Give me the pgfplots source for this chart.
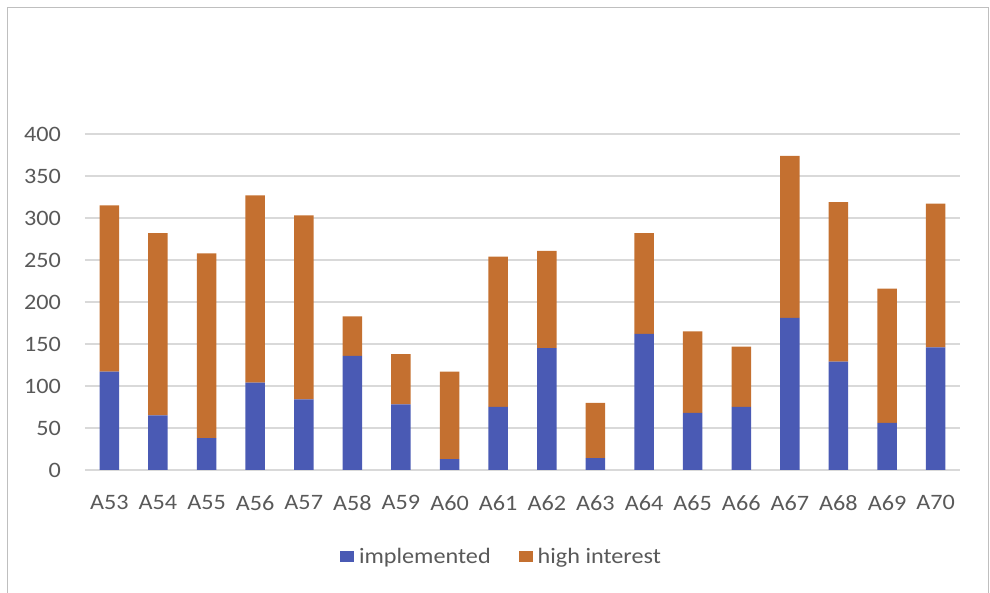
\documentclass[border=0pt]{standalone}
\usepackage{pgfplots}
\pgfplotsset{compat=1.18}
\usepackage{fontspec}
\setmainfont{Carlito}[FakeStretch=1.1]
\definecolor{impl}{RGB}{74,90,180}
\definecolor{high}{RGB}{196,112,48}
\definecolor{gridc}{RGB}{217,217,217}
\definecolor{tickc}{RGB}{89,89,89}
\definecolor{framec}{RGB}{191,191,191}
\begin{document}
\begin{tikzpicture}[x=1pt,y=1pt]
\path[use as bounding box] (-85,-123) rectangle (905,470);
\draw[framec, line width=1pt] (-77,-130) -- (-77,462) -- (903,462) -- (903,-130);
\begin{axis}[
  at={(0,0)}, anchor=south west,
  scale only axis, width=875pt, height=336pt,
  ybar stacked, bar width=19.5pt,
  xmin=-0.5, xmax=17.5, ymin=0, ymax=400,
  xtick={0,...,17},
  xticklabels={A53,A54,A55,A56,A57,A58,A59,A60,A61,A62,A63,A64,A65,A66,A67,A68,A69,A70},
  ytick={0,50,...,400},
  axis line style={draw=none},
  major tick length=0pt,
  ymajorgrids, grid style={gridc, line width=1.2pt},
  tick label style={font=\fontsize{22}{26}\selectfont, text=tickc, inner sep=0pt},
  /pgf/number format/assume math mode=true,
  yticklabel style={anchor=east, xshift=-24pt},
  xticklabel style={anchor=north, yshift=-25pt},
  legend columns=2,
  legend style={at={(500.5pt-85pt,-87pt)}, anchor=center, draw=none, fill=none,
    font=\fontsize{22}{26}\selectfont, text=tickc, inner sep=0pt,
    /tikz/every even column/.append style={column sep=28pt},
    nodes={inner sep=0pt, anchor=west}},
  legend image code/.code={\fill[#1] (0pt,-5.5pt) rectangle (14pt,5.5pt); \path (19pt,0pt);},
  legend cell align=left,
]
\addplot[fill=impl, draw=none] coordinates {
(0,117) (1,65) (2,38) (3,104) (4,84) (5,136) (6,78) (7,13) (8,75)
(9,145) (10,14) (11,162) (12,68) (13,75) (14,181) (15,129) (16,56) (17,146)};
\addplot[fill=high, draw=none] coordinates {
(0,198) (1,217) (2,220) (3,223) (4,219) (5,47) (6,60) (7,104) (8,179)
(9,116) (10,66) (11,120) (12,97) (13,72) (14,193) (15,190) (16,160) (17,171)};
\legend{implemented, high interest}
\end{axis}
\end{tikzpicture}
\end{document}
